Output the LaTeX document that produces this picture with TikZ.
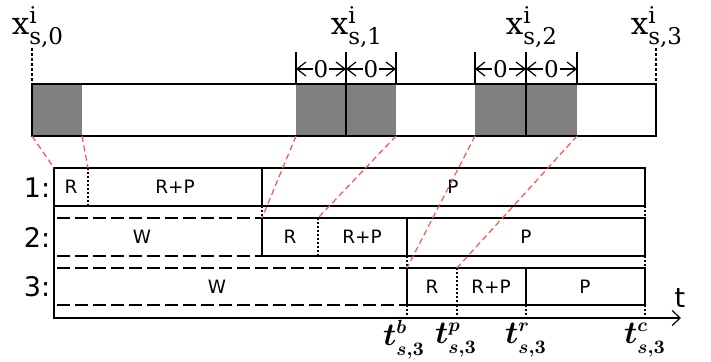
\RequirePackage{fix-cm}
\documentclass[tikz,border=0pt]{standalone}
\usepackage{fontspec}
\usepackage{amsmath}
\usetikzlibrary{arrows.meta}
\newfontfamily\serifdv{DejaVu Serif}
\newfontfamily\sansdv{DejaVu Sans}
\DeclareMathSizes{16}{16}{9.5}{7}
\DeclareMathSizes{15.5}{15.5}{11.5}{8}
\definecolor{blockgray}{RGB}{128,128,128}
\definecolor{maplink}{RGB}{255,80,80}
\newcommand{\xlab}[1]{{\fontsize{15.5}{17}\selectfont\serifdv
  $\text{\serifdv x}^{\text{\serifdv i}}_{\text{\serifdv s,#1}}$}}
\newcommand{\tlab}[1]{{\fontsize{16}{18}\selectfont\boldmath$t^{#1}_{s,3}$}}
\tikzset{
  frame/.style={line width=0.75pt},
  waitline/.style={line width=0.75pt, dash pattern=on 6.5pt off 2.5pt},
  divider/.style={line width=0.6pt, dash pattern=on 1pt off 1pt},
  guide/.style={line width=0.6pt, dash pattern=on 1.5pt off 1pt},
  link/.style={maplink, line width=0.6pt, dash pattern=on 3pt off 1.8pt},
  dim/.style={line width=0.6pt, {Straight Barb[length=4.5pt,width=7pt]}-{Straight Barb[length=4.5pt,width=7pt]}},
  dimlab/.style={fill=white, inner sep=0.5pt, font=\fontsize{11.5}{13}\selectfont\serifdv},
  cell/.style={font=\fontsize{9.2}{11}\selectfont\sansdv},
  rowlab/.style={font=\fontsize{13.5}{15}\selectfont\sansdv},
  tlabel/.style={inner sep=0pt},
}
\begin{document}
\begin{tikzpicture}[x=0.5pt,y=-0.5pt]
\useasboundingbox (0,0) rectangle (711,362);

% ---- position bar with the gray blocks ----
\fill[blockgray] (32,84) rectangle (82,136);
\fill[blockgray] (296,84) rectangle (396,136);
\fill[blockgray] (475,84) rectangle (577,136);
\draw[frame] (32,84) rectangle (656,136);
\draw[frame] (346,84) -- (346,136);
\draw[frame] (526,84) -- (526,136);

\coordinate (g0l) at (32,136);  \coordinate (g0r) at (82,136);
\coordinate (g1l) at (296,136); \coordinate (g1r) at (396,136);
\coordinate (g2l) at (475,136); \coordinate (g2r) at (577,136);

% position labels
\node (x0) at (38,27) {\xlab{0}};
\node (x1) at (357,27) {\xlab{1}};
\node (x2) at (532,27) {\xlab{2}};
\node (x3) at (657,27) {\xlab{3}};
\draw[guide] (32,48) -- (32,84);
\draw[guide] (656,48) -- (656,84);

% overlap dimensions
\foreach \xx in {296,346,396,475,526,577}
  \draw[line width=0.6pt] (\xx,52) -- (\xx,85);
\draw[dim] (296,69) -- node[dimlab] (o1) {0} (346,69);
\draw[dim] (346,69) -- node[dimlab] (o2) {0} (396,69);
\draw[dim] (475,69) -- node[dimlab] (o3) {0} (526,69);
\draw[dim] (526,69) -- node[dimlab] (o4) {0} (577,69);

% ---- time rows ----
% row 1
\draw[frame] (54,168) rectangle (645,206);
\draw[divider] (88,168) -- (88,206);
\draw[frame] (262,168) -- (262,206);
\node[cell] (r1a) at (71,187) {R};
\node[cell] (r1b) at (175,187) {R+P};
\node[cell] (r1c) at (453,187) {P};
\coordinate (r1s) at (54,168); \coordinate (r1p) at (88,168);

% row 2
\draw[waitline] (57,218) -- (262,218);
\draw[waitline] (57,256) -- (262,256);
\draw[frame] (262,218) rectangle (645,256);
\draw[divider] (318,218) -- (318,256);
\draw[frame] (407,218) -- (407,256);
\node[cell] (r2w) at (142,237) {W};
\node[cell] (r2a) at (290,237) {R};
\node[cell] (r2b) at (362,237) {R+P};
\node[cell] (r2c) at (526,237) {P};
\coordinate (r2s) at (262,218); \coordinate (r2p) at (318,218);

% row 3
\draw[waitline] (57,268) -- (407,268);
\draw[waitline] (57,305) -- (407,305);
\draw[frame] (407,268) rectangle (645,305);
\draw[divider] (457,268) -- (457,305);
\draw[frame] (526,268) -- (526,305);
\node[cell] (r3w) at (217,287) {W};
\node[cell] (r3a) at (432,287) {R};
\node[cell] (r3b) at (491,287) {R+P};
\node[cell] (r3c) at (585,287) {P};
\coordinate (r3s) at (407,268); \coordinate (r3p) at (457,268);

% row numbers
\node[rowlab] (n1) at (37,188) {1:};
\node[rowlab] (n2) at (37,237) {2:};
\node[rowlab] (n3) at (37,287) {3:};

% frame and time axis
\coordinate (axend) at (681,318);
\draw[frame] (54,168) -- (54,318) -- (680,318);
\draw[line width=0.6pt, -{Straight Barb[length=4pt,width=7.5pt]}] (600,318) -- (axend);
\node[rowlab] (tax) at (680,298) {t};

% ticks between rows and down to the axis
\draw[divider] (262,206) -- (262,218);
\draw[divider] (645,206) -- (645,218);
\draw[divider] (407,256) -- (407,268);
\draw[divider] (645,256) -- (645,268);
\foreach \xx in {407,457,526,645}
  \draw[divider] (\xx,305) -- (\xx,318);

% time labels
\node[tlabel] (tb) at (404,340) {\tlab{b}};
\node[tlabel] (tp) at (456,340) {\tlab{p}};
\node[tlabel] (tr) at (526,340) {\tlab{r}};
\node[tlabel] (tc) at (645,340) {\tlab{c}};

% ---- mapping of blocks onto rows ----
\draw[link] (g0l) -- (r1s);
\draw[link] (g0r) -- (r1p);
\draw[link] (g1l) -- (r2s);
\draw[link] (g1r) -- (r2p);
\draw[link] (g2l) -- (r3s);
\draw[link] (g2r) -- (r3p);
\end{tikzpicture}
\end{document}
